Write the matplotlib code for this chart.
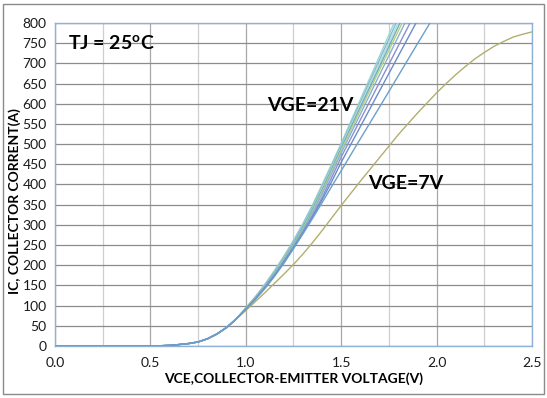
import matplotlib
matplotlib.use("Agg")
import matplotlib.pyplot as plt
from matplotlib.patches import Rectangle
import numpy as np

plt.rcParams['font.family'] = ['Lato', 'DejaVu Sans']
plt.rcParams['mathtext.fontset'] = 'custom'
plt.rcParams['mathtext.rm'] = 'Lato:bold'
plt.rcParams['mathtext.bf'] = 'Lato:bold'

# VCE sample points (V)
vce = [0.0, 0.5, 0.55, 0.6, 0.65, 0.7, 0.75, 0.8, 0.85, 0.9, 0.95,
       1.0, 1.05, 1.1, 1.15, 1.2, 1.25, 1.3, 1.35, 1.4, 1.45, 1.5,
       1.6, 1.7, 1.8, 1.9, 2.0]
low = [0, 0, 0.5, 1.5, 3.5, 6, 10, 18, 30, 46, 67]
# Steep family (VGE = 21 V down to lower gate voltages), IC in A
ic_vge21 = low + [94, 122, 153, 187, 223, 262, 304, 350, 400, 451, 502, 610, 717, 825, 930, 1035]
ic_vge19 = low + [94, 121, 151, 184, 220, 259, 300, 346, 395, 446, 498, 603, 708, 813, 918, 1020]
ic_vge17 = low + [93, 121, 150, 182, 218, 256, 297, 342, 391, 442, 494, 597, 699, 802, 905, 1008]
ic_vge15 = low + [93, 120, 149, 181, 216, 254, 295, 339, 387, 438, 490, 591, 691, 792, 893, 994]
ic_vge14 = low + [92, 119, 148, 179, 214, 251, 291, 335, 382, 433, 485, 584, 683, 781, 880, 979]
ic_vge13 = low + [92, 118, 147, 178, 212, 249, 288, 331, 377, 427, 478, 574, 671, 767, 864, 960]
ic_vge12 = low + [91, 117, 145, 175, 209, 245, 283, 324, 368, 417, 468, 560, 652, 744, 836, 928]
ic_vge11 = low + [91, 116, 144, 174, 207, 243, 280, 320, 362, 407, 455, 543, 631, 719, 807, 895]
ic_vge9 = low + [90, 115, 142, 172, 205, 241, 278, 316, 355, 395, 434, 513, 591, 670, 749, 827]
steep_series = [ic_vge21, ic_vge19, ic_vge17, ic_vge15, ic_vge14, ic_vge13,
                ic_vge12, ic_vge11, ic_vge9]
steep_colors = ['#9fd3d8', '#7ebfc8', '#b2dade', '#6aaebb', '#bccb86',
                '#86b3cf', '#8a90cc', '#6a8cc8', '#6aa0cc']

# VGE = 7 V curve
vce_7 = [0.0, 0.5, 0.55, 0.6, 0.65, 0.7, 0.75, 0.8, 0.85, 0.9, 0.95,
         1.0, 1.05, 1.1, 1.15, 1.2, 1.25, 1.3, 1.35, 1.4, 1.45, 1.5,
         1.6, 1.7, 1.8, 1.9, 2.0, 2.05, 2.1, 2.15, 2.2, 2.25, 2.3, 2.35,
         2.4, 2.45, 2.5]
ic_vge7 = [0, 0, 0.5, 1.5, 3.5, 6, 10, 18, 30, 46, 67,
           88, 110, 132, 155, 178, 202, 228, 256, 286, 317, 348,
           408, 466, 524, 577, 627, 650, 672, 692, 711, 727, 742, 754,
           765, 772, 778]

x_ticks = [0.0, 0.5, 1.0, 1.5, 2.0, 2.5]
y_ticks = list(range(0, 801, 50))

fig = plt.figure(figsize=(5.47, 3.98), dpi=100)
ax = fig.add_axes([0.1005, 0.1307, 0.8721, 0.8115])

ax.plot(vce_7, ic_vge7, color='#b3ae6e', lw=1.0, zorder=3)
for ser, col in zip(steep_series, steep_colors):
    ax.plot(vce, ser, color=col, lw=1.0, zorder=3)

ax.set_xlim(0, 2.5)
ax.set_ylim(0, 800)
ax.set_xticks(x_ticks)
ax.set_xticklabels([f"{v:.1f}" for v in x_ticks])
ax.set_xticks(np.arange(0.25, 2.5, 0.5), minor=True)
ax.set_yticks(y_ticks)
ax.tick_params(axis='both', which='both', length=0, labelsize=10, colors='#1a1a1a')
ax.tick_params(axis='x', pad=8)
ax.tick_params(axis='y', pad=6)

ax.grid(True, which='major', axis='y', color='#8c8c8c', lw=0.9)
ax.grid(True, which='major', axis='x', color='#a8a8a8', lw=0.9)
ax.grid(True, which='minor', axis='x', color='#cfcfcf', lw=0.9)
ax.set_axisbelow(True)
for s in ax.spines.values():
    s.set_color('#8fb0d8')
    s.set_linewidth(1.0)

ax.set_xlabel('VCE,COLLECTOR-EMITTER VOLTAGE(V)', fontsize=10, fontweight='bold',
              labelpad=2)
ax.set_ylabel('IC, COLLECTOR CORRENT(A)', fontsize=10, fontweight='bold')
ax.yaxis.set_label_coords(-0.072, 0.45)

ax.text(0.027, 0.935, r'TJ = 25$^{\mathrm{o}}$C', transform=ax.transAxes,
        fontsize=14, fontweight='bold', va='center', ha='left')
ax.text(0.445, 0.745, 'VGE=21V', transform=ax.transAxes,
        fontsize=14, fontweight='bold', va='center', ha='left')
ax.text(0.656, 0.503, 'VGE=7V', transform=ax.transAxes,
        fontsize=14, fontweight='bold', va='center', ha='left')

fig.patches.append(Rectangle((3 / 547, 4 / 398), 541 / 547, 390 / 398,
                             transform=fig.transFigure, fill=False,
                             edgecolor='#8a8a8a', lw=1.0))

fig.savefig('out.png', dpi=100)
